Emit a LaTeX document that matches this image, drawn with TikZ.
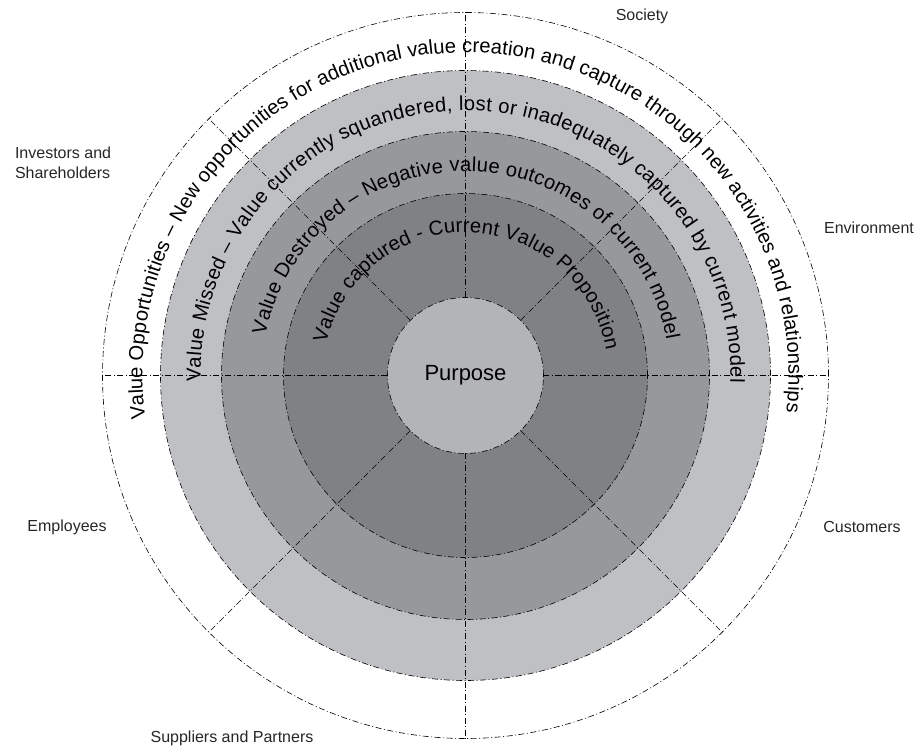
\documentclass[tikz,border=0pt]{standalone}
\usepackage{fontspec}
\setmainfont{Liberation Sans}
\usetikzlibrary{decorations.text}
\definecolor{missedgray}{RGB}{191,192,195}
\definecolor{destroyedgray}{RGB}{151,152,156}
\definecolor{capturedgray}{RGB}{128,129,133}
\definecolor{purposegray}{RGB}{179,180,184}
\newcommand\ringfont{\fontsize{20.2}{24}\selectfont}

\begin{document}
\begin{tikzpicture}[
    x=1pt, y=1pt,
    dashdot/.style={line width=0.6pt, dash pattern=on 6pt off 2.5pt on 1pt off 2.5pt},
    ring/.style={circle, draw=black, dashdot, inner sep=0pt, outer sep=0pt, minimum size=#1},
    sector line/.style={dashdot},
    stakeholder/.style={font=\fontsize{16}{20}\selectfont, align=left, text=black!85},
    ring text/.style={decorate, decoration={text along path, text align={fit to path}, text={|\ringfont|#1}}}
    ]
\useasboundingbox (-465.5,-373.5) rectangle (450.5,375.5);
\coordinate (c) at (0,0);
% rings, largest first
\node[ring=726pt] (outer) at (c) {};
\node[ring=610pt, fill=missedgray] (missed) at (c) {};
\node[ring=488pt, fill=destroyedgray] (destroyed) at (c) {};
\node[ring=364pt, fill=capturedgray] (captured) at (c) {};
\node[ring=156pt, fill=purposegray, font=\fontsize{22}{26}\selectfont] (purpose) at (c) {Purpose};
\foreach \a in {0,45,...,315}
  \draw[sector line] (purpose.\a) -- (outer.\a);
% texts on the rings
\path[ring text={Value Opportunities – New opportunities for additional value creation and capture through new activities and relationships}]
  (187.7:323) arc[start angle=187.7, end angle=-6.5, radius=323];
\path[ring text={Value Missed – Value currently squandered, lost or inadequately captured by current model}]
  (181.4:265) arc[start angle=181.4, end angle=-1.5, radius=265];
\path[ring text={Value Destroyed – Negative value outcomes of current model}]
  (168.6:204) arc[start angle=168.6, end angle=10, radius=204];
\path[ring text={Value captured - Current Value Proposition}]
  (167:143) arc[start angle=167, end angle=10.2, radius=143];
% stakeholders
\node[stakeholder] (society) at (176.5,359.5) {Society};
\node[stakeholder] (environment) at (403.5,147.5) {Environment};
\node[stakeholder] (customers) at (396.5,-151.5) {Customers};
\node[stakeholder] (suppliers) at (-233.5,-362.5) {Suppliers and Partners};
\node[stakeholder] (employees) at (-398.5,-151.5) {Employees};
\node[stakeholder, anchor=west] (investors) at (-454,212.5) {Investors and\\Shareholders};
\end{tikzpicture}
\end{document}
